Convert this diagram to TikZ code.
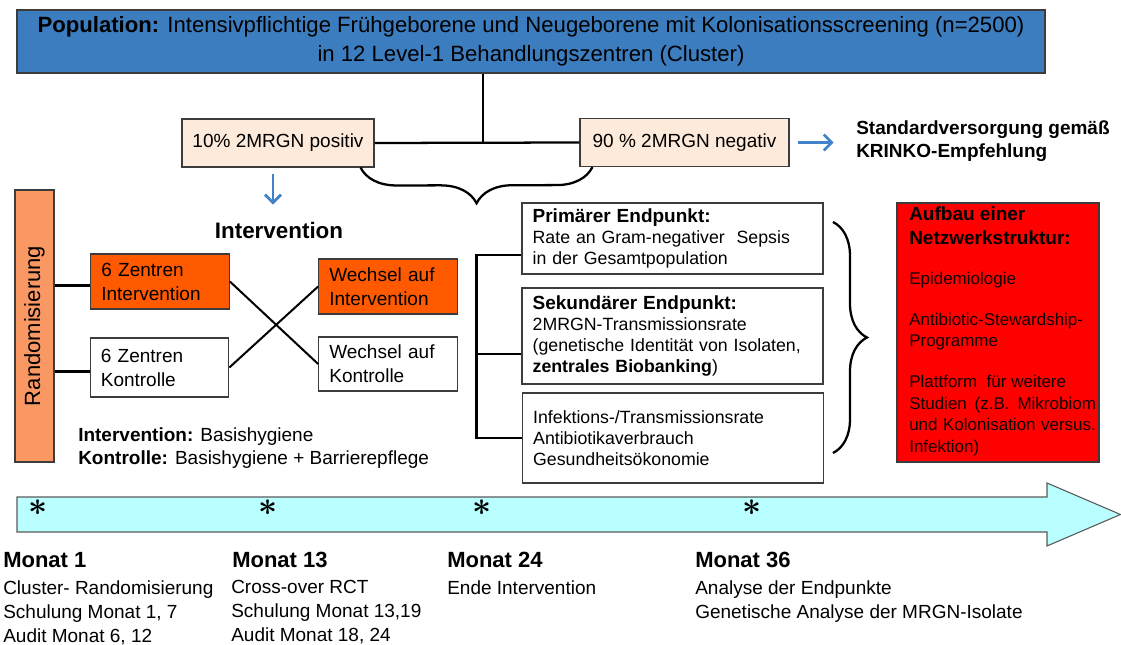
\documentclass[tikz,border=0pt]{standalone}
\usepackage{amsmath}
\usepackage{fontspec}
\setmainfont{Liberation Sans}
\usetikzlibrary{arrows.meta,decorations.pathreplacing}

\definecolor{popblue}{RGB}{60,125,192}
\definecolor{peach}{RGB}{253,234,218}
\definecolor{randorange}{RGB}{250,152,100}
\definecolor{armorange}{RGB}{255,90,0}
\definecolor{netred}{RGB}{255,0,0}
\definecolor{nettextred}{RGB}{20,0,0}
\definecolor{timecyan}{RGB}{185,255,255}
\definecolor{arrowblue}{RGB}{65,130,200}
\definecolor{edgegray}{RGB}{60,60,60}

\newcommand\popfont{\fontsize{16.6pt}{22pt}\selectfont}
\newcommand\armfont{\fontsize{14.25pt}{18pt}\selectfont}
\newcommand\epfont{\fontsize{13.3pt}{15.9pt}\selectfont}
\newcommand\netfont{\fontsize{12.75pt}{16.3pt}\selectfont}
\newcommand\monatfont{\bfseries\fontsize{16.5pt}{20pt}\selectfont}

\begin{document}
\begin{tikzpicture}[x=0.75pt,y=0.75pt,yscale=-1,xscale=1,
  box/.style={draw=edgegray,line width=0.8pt,inner sep=0pt,align=left},
  armbox/.style={box,inner xsep=8pt,text width=88pt,font=\armfont},
  epbox/.style={box,inner xsep=8pt,text width=209.75pt,font=\epfont},
  conn/.style={line width=1.7pt},
  bluearrow/.style={draw=arrowblue,line width=2pt,-{Straight Barb[length=6pt,width=12pt]}},
  txt/.style={anchor=north west,inner sep=0.75pt,align=left}]
\useasboundingbox (0,0) rectangle (1121,645);

% Population
\node[box,fill=popblue,align=center,minimum width=771pt,minimum height=47.25pt,font=\popfont] (pop) at (531,41.5)
  {\textbf{Population:} Intensivpflichtige Frühgeborene und Neugeborene mit Kolonisationsscreening (n=2500)\\in 12 Level-1 Behandlungszentren (Cluster)};

% Screening result
\node[box,fill=peach,align=center,minimum width=144pt,minimum height=36pt,font=\armfont] (pos) at (278,143) {10\% 2MRGN positiv};
\node[box,fill=peach,align=center,minimum width=156.75pt,minimum height=36pt,font=\armfont] (neg) at (684.5,142.5) {90 \% 2MRGN negativ};
\node[txt,font=\bfseries\fontsize{14.25pt}{17.25pt}\selectfont] (std) at (855,119) {Standardversorgung gemäß\\KRINKO-Empfehlung};
\coordinate (split) at (483,142);

\draw[conn] (pos.east) -- (neg.west);
\draw[conn] (split) -- (split |- pop.south);
\draw[bluearrow,shorten <=6pt,shorten >=16pt] (neg.east) -- (neg.east -| std.west);
\draw[conn,decorate,decoration={brace,amplitude=27pt}] ([xshift=9.75pt]neg.south west) -- ([xshift=-10.5pt]pos.south east);

% Intervention arm
\node[font=\bfseries\fontsize{16.8pt}{20pt}\selectfont,inner sep=0.75pt] (intv) at (279,230) {Intervention};
\draw[bluearrow,shorten <=4.5pt,shorten >=12pt] ([xshift=-3.75pt]pos.south) -- ([xshift=-3.75pt]pos.south |- intv.north);

\node[box,fill=randorange,align=center,rotate=90,minimum width=204pt,minimum height=29.25pt,font=\fontsize{16.5pt}{18pt}\selectfont] (rand) at (34.5,326) {Randomisierung};
\node[armbox,fill=armorange,minimum height=41.25pt] (zint) at (160,281.5) {6 Zentren\\Intervention};
\node[armbox,fill=white,minimum height=44.25pt] (zkon) at (159.5,367.5) {6 Zentren\\Kontrolle};
\node[armbox,fill=armorange,minimum height=41.25pt] (wint) at (388,286.5) {Wechsel auf\\Intervention};
\node[armbox,fill=white,minimum height=40.5pt] (wkon) at (388,364) {Wechsel auf\\Kontrolle};

\draw[conn] ([yshift=3pt]zint.west) -- ([yshift=3pt]zint.west -| rand.south);
\draw[conn] ([yshift=3pt]zkon.west) -- ([yshift=3pt]zkon.west -| rand.south);
\draw[line width=1.5pt] (zint.east) -- (wkon.west);
\draw[line width=1.5pt] (zkon.east) -- (wint.west);

\node[txt,font=\fontsize{14.25pt}{17.25pt}\selectfont] (note) at (77,426) {\textbf{Intervention:} Basishygiene\\\textbf{Kontrolle:} Basishygiene + Barrierepflege};

% Endpunkte
\node[epbox,minimum height=53.25pt] (ep1) at (672.5,238.5)
  {{\bfseries\fontsize{14.25pt}{16pt}\selectfont Primärer Endpunkt:}\\Rate an Gram-negativer\ \ Sepsis\\in der Gesamtpopulation};
\node[epbox,minimum height=72pt] (ep2) at (672.5,336)
  {{\bfseries\fontsize{14.25pt}{16pt}\selectfont Sekundärer Endpunkt:}\\2MRGN-Transmissionsrate\\\makebox[207pt][s]{(genetische Identität von Isolaten,}\\\textbf{zentrales Biobanking})};
\node[epbox,minimum height=67.5pt] (ep3) at (673,438)
  {Infektions-/Transmissionsrate\\Antibiotikaverbrauch\\Gesundheitsökonomie};

\draw[conn] ([yshift=12.4pt]ep1.west) -- ++(-45,0) |- (ep3.west);
\draw[conn] ([yshift=13.5pt]ep2.west) -- ++(-45,0);
\draw[conn,decorate,decoration={brace,amplitude=25.5pt}] (833,222) -- (833,453);

% Netzwerk
\node[box,fill=netred,minimum width=151.5pt,minimum height=194.25pt] (net) at (998,332.5) {};
\node[txt,font=\netfont] (nettext) at (908,205)
  {{\bfseries\fontsize{14.25pt}{16pt}\selectfont Aufbau einer}\\[2pt]
   {\bfseries\fontsize{14.25pt}{16pt}\selectfont Netzwerkstruktur:}\\[14pt]
   \textcolor{nettextred}{Epidemiologie}\\[14pt]
   \textcolor{nettextred}{Antibiotic-Stewardship-}\\\textcolor{nettextred}{Programme}\\[14pt]
   \textcolor{nettextred}{Plattform\ \ für weitere}\\
   \textcolor{nettextred}{\makebox[140pt][s]{Studien (z.B. Mikrobiom}}\\
   \textcolor{nettextred}{\makebox[140pt][s]{und Kolonisation versus.}}\\
   \textcolor{nettextred}{Infektion)}};

% Zeitstrahl
\draw[draw={rgb,255:red,90;green,90;blue,90},fill=timecyan,line width=0.8pt]
  (17,497) -- (1047,497) -- (1047,483) -- (1120.5,514.5) -- (1047,546) -- (1047,532) -- (17,532) -- cycle;
\foreach \x/\n in {38/1,268/2,482/3,752/4}
  \node[inner sep=0pt,font=\fontsize{34pt}{34pt}\selectfont] (star\n) at (\x,508) {$\boldsymbol{\ast}$};

\node[txt,font=\monatfont] (m1) at (2,551) {Monat 1};
\node[txt,font=\armfont] (m1text) at (2,579) {Cluster- Randomisierung\\Schulung Monat 1, 7\\Audit Monat 6, 12};
\node[txt,font=\monatfont] (m13) at (231,551) {Monat 13};
\node[txt,font=\armfont] (m13text) at (230,579) {Cross-over RCT\\Schulung Monat 13,19\\Audit Monat 18, 24};
\node[txt,font=\monatfont] (m24) at (446,551) {Monat 24};
\node[txt,font=\armfont] (m24text) at (446,579) {Ende Intervention};
\node[txt,font=\monatfont] (m36) at (694,551) {Monat 36};
\node[txt,font=\armfont] (m36text) at (694,579) {Analyse der Endpunkte\\Genetische Analyse der MRGN-Isolate};

\end{tikzpicture}
\end{document}
